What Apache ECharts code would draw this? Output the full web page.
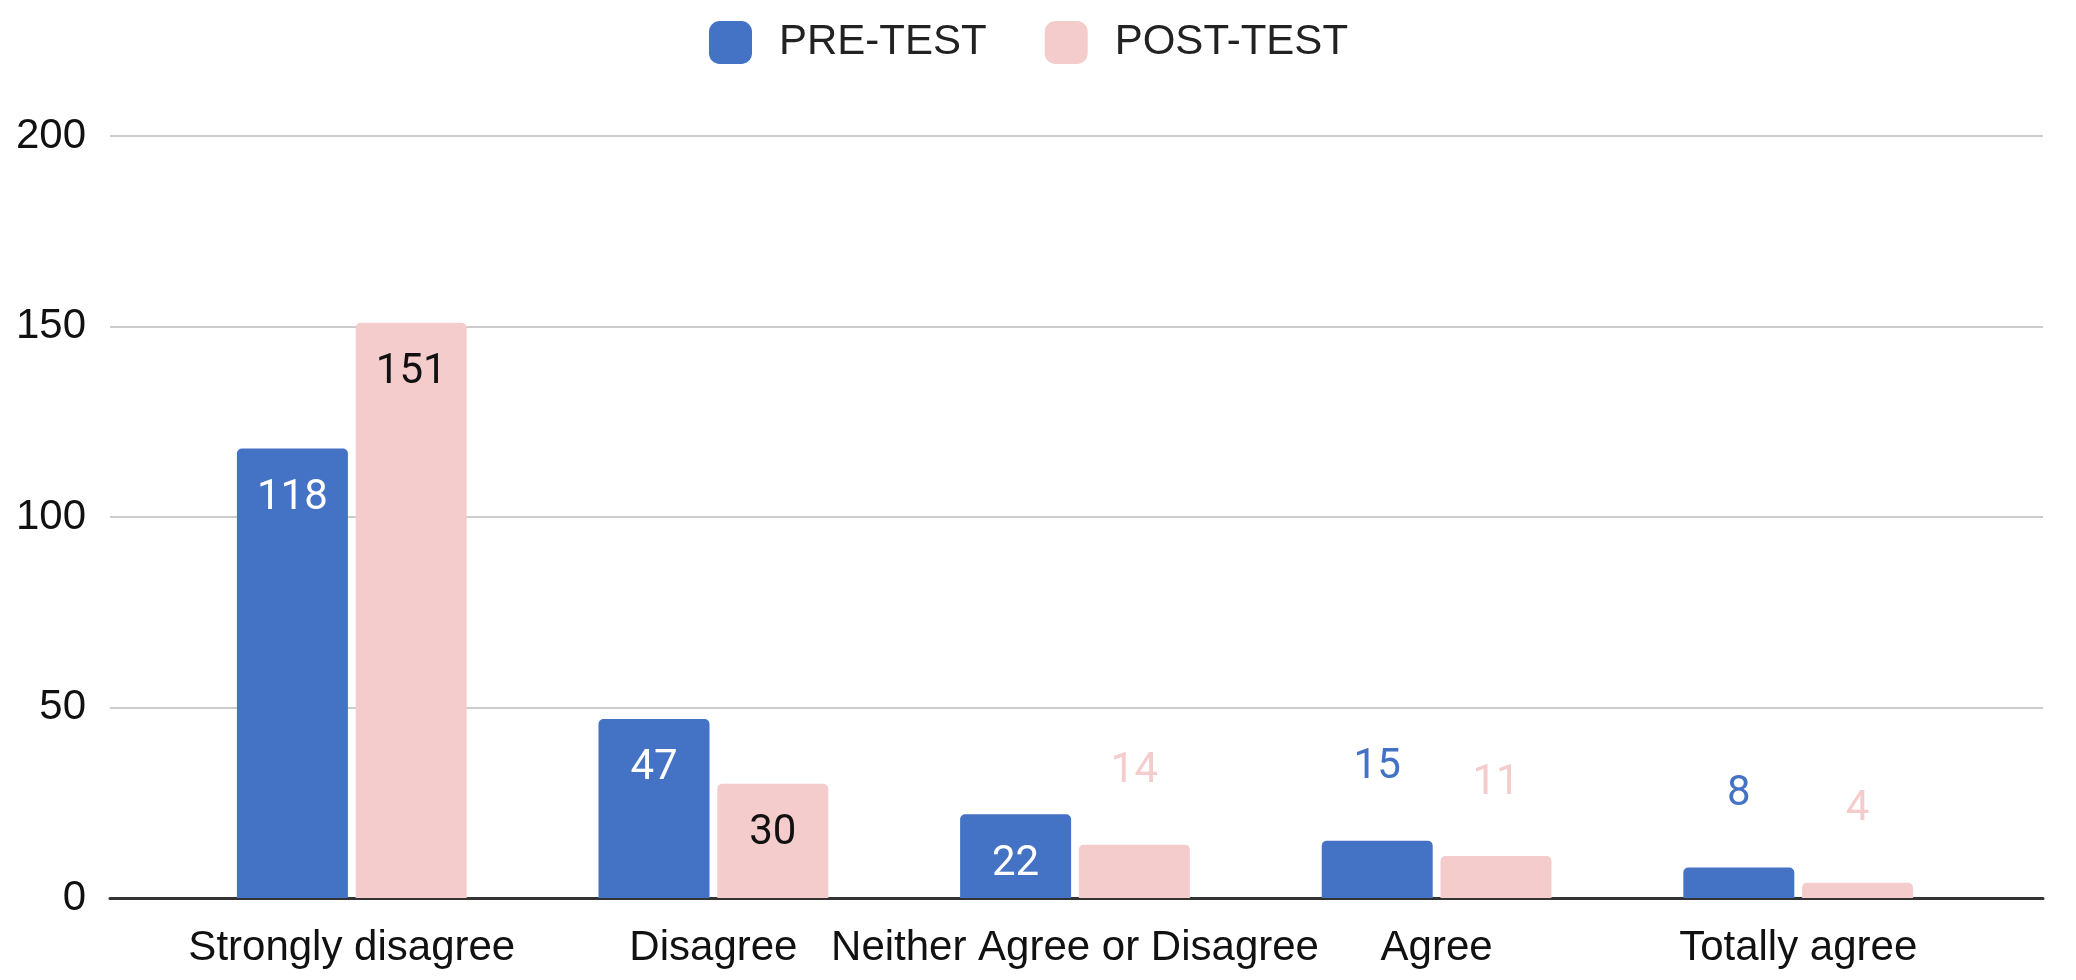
<!DOCTYPE html>
<html>
<head>
<meta charset="utf-8">
<script src="https://cdn.jsdelivr.net/npm/echarts@6/dist/echarts.min.js"></script>
<style>
html, body { margin: 0; padding: 0; background: #ffffff; }
#chart { width: 2076px; height: 980px; }
</style>
</head>
<body>
<div id="chart"></div>
<script>
// 数据
var categories = ['Strongly disagree', 'Disagree', 'Neither Agree or Disagree', 'Agree', 'Totally agree'];
var seriesNames = ['PRE-TEST', 'POST-TEST'];
var preTest = [118, 47, 22, 15, 8];
var postTest = [151, 30, 14, 11, 4];
var yTicks = [0, 50, 100, 150, 200];

var blue = '#4472c4';
var pink = '#f4cccc';

// 柱子够高就把数字放在里面，否则放在上面
function makeItems(values, barColor, insideColor) {
    return values.map(function (v) {
        var label;
        if (v >= 20) {
            label = { position: 'insideTop', distance: 29, color: insideColor };
        } else {
            label = { position: 'top', distance: 52, color: barColor };
        }
        return { value: v, label: label };
    });
}

var myChart = echarts.init(document.getElementById('chart'));
var option = {
    animation: false,
    textStyle: { fontFamily: 'Liberation Sans' },
    legend: {
        data: seriesNames,
        top: 16,
        left: 704,
        itemWidth: 43,
        itemHeight: 43,
        itemGap: 58,
        icon: 'roundRect',
        textStyle: { fontSize: 42, color: '#222222', padding: [0, 0, 0, 22] }
    },
    // grid 0 画网格线，grid 1 画柱子（分类区比网格线窄）
    grid: [
        { left: 110, right: 33, top: 136, bottom: 82 },
        { left: 171, right: 97, top: 136, bottom: 82 }
    ],
    xAxis: [
        {
            gridIndex: 0,
            type: 'category',
            data: categories,
            axisLine: { show: true, lineStyle: { color: '#333333', width: 3 } },
            axisTick: { show: false },
            axisLabel: { show: false },
            splitLine: { show: false }
        },
        {
            gridIndex: 1,
            type: 'category',
            data: categories,
            axisLine: { show: false },
            axisTick: { show: false },
            axisLabel: { fontSize: 42, color: '#111111', margin: 29, interval: 0 },
            splitLine: { show: false }
        }
    ],
    yAxis: [
        {
            gridIndex: 0,
            type: 'value',
            min: yTicks[0],
            max: yTicks[yTicks.length - 1],
            interval: yTicks[1] - yTicks[0],
            axisLine: { show: false },
            axisTick: { show: false },
            axisLabel: { fontSize: 42, color: '#111111', margin: 24 },
            splitLine: { lineStyle: { color: '#cccccc', width: 2 } }
        },
        {
            gridIndex: 1,
            type: 'value',
            min: yTicks[0],
            max: yTicks[yTicks.length - 1],
            interval: yTicks[1] - yTicks[0],
            show: false,
            splitLine: { show: false }
        }
    ],
    series: [
        {
            name: seriesNames[0],
            type: 'bar',
            xAxisIndex: 1,
            yAxisIndex: 1,
            data: makeItems(preTest, blue, '#ffffff'),
            barWidth: 111,
            barGap: '7%',
            itemStyle: { color: blue, borderRadius: [5, 5, 0, 0] },
            label: { show: true, fontSize: 42, fontFamily: 'Roboto' }
        },
        {
            name: seriesNames[1],
            type: 'bar',
            xAxisIndex: 1,
            yAxisIndex: 1,
            data: makeItems(postTest, pink, '#111111'),
            barWidth: 111,
            barGap: '7%',
            itemStyle: { color: pink, borderRadius: [5, 5, 0, 0] },
            label: { show: true, fontSize: 42, fontFamily: 'Roboto' }
        }
    ]
};
myChart.setOption(option);
</script>
</body>
</html>
